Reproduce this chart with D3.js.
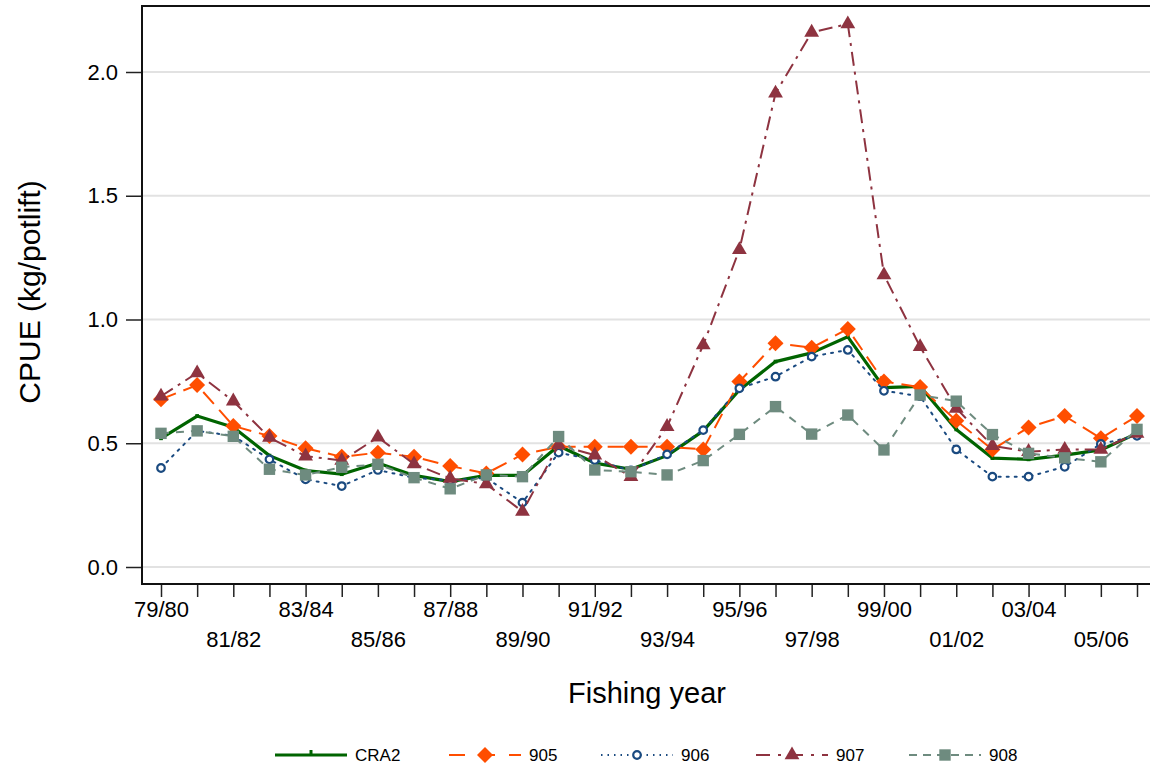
<!DOCTYPE html>
<html>
<head>
<meta charset="utf-8">
<script src="https://cdn.jsdelivr.net/npm/d3@7"></script>
<style>
  body { margin: 0; background: #fff; }
  svg { display: block; font-family: Arial, "Liberation Sans", sans-serif; }
</style>
</head>
<body>
<svg id="chart" width="1150" height="769"></svg>
<script>
// fishing years on the x axis
const years = ["79/80","80/81","81/82","82/83","83/84","84/85","85/86","86/87","87/88","88/89",
  "89/90","90/91","91/92","92/93","93/94","94/95","95/96","96/97","97/98","98/99",
  "99/00","00/01","01/02","02/03","03/04","04/05","05/06","06/07"];

// CPUE (kg/potlift) per series
const cra2 = [0.52,0.61,0.565,0.45,0.39,0.375,0.42,0.37,0.345,0.37,0.37,0.49,0.42,0.395,0.45,0.55,
  0.715,0.83,0.865,0.93,0.725,0.73,0.556,0.44,0.435,0.452,0.473,0.54];
const s905 = [0.678,0.735,0.57,0.529,0.48,0.445,0.462,0.445,0.408,0.378,0.455,0.486,0.486,0.486,0.486,0.475,
  0.749,0.904,0.886,0.962,0.749,0.727,0.591,0.475,0.564,0.61,0.52,0.61];
const s906 = [0.40,0.55,0.53,0.435,0.354,0.327,0.392,0.36,0.35,0.36,0.26,0.462,0.432,0.39,0.455,0.553,
  0.722,0.769,0.85,0.877,0.712,0.69,0.475,0.365,0.365,0.405,0.497,0.53];
const s907 = [0.69,0.784,0.67,0.523,0.448,0.43,0.524,0.416,0.358,0.335,0.224,0.493,0.452,0.365,0.567,0.897,
  1.282,1.914,2.16,2.194,1.18,0.89,0.641,0.49,0.466,0.475,0.475,0.54];
const s908 = [0.54,0.55,0.528,0.395,0.372,0.403,0.415,0.361,0.316,0.372,0.365,0.527,0.392,0.385,0.372,0.43,
  0.536,0.648,0.537,0.614,0.473,0.695,0.67,0.535,0.459,0.441,0.425,0.556];

const yTicks = [0, 0.5, 1.0, 1.5, 2.0];

const seriesNames = ["CRA2","905","906","907","908"];
const seriesValues = [cra2, s905, s906, s907, s908];

// styles per series
const styles = {
  "CRA2": {color: "#006400", width: 3.2, dash: null, legendDash: null, marker: "tick"},
  "905":  {color: "#ff4e00", width: 2, dash: "16,8", legendDash: "16,14", marker: "diamond"},
  "906":  {color: "#1a4a80", width: 2, dash: "2,6", legendDash: "1.5,5", marker: "circle"},
  "907":  {color: "#8e3340", width: 2, dash: "14,6,3,6", legendDash: "14,8,3,8", marker: "triangle"},
  "908":  {color: "#6e8b7f", width: 2, dash: "8,7", legendDash: "8,6", marker: "square"}
};

const svg = d3.select("#chart");

const frame = {left: 142, top: 6, bottom: 584, right: 1152};

const x = d3.scalePoint().domain(years).range([161, 1137]);
const y = d3.scaleLinear().domain([0, 2]).range([567, 72]);

// grid lines
svg.append("g")
  .selectAll("line")
  .data(yTicks)
  .join("line")
  .attr("x1", frame.left).attr("x2", frame.right)
  .attr("y1", d => y(d)).attr("y2", d => y(d))
  .attr("stroke", "#e2e2e2")
  .attr("stroke-width", 2);

// y axis
const yAxis = svg.append("g")
  .attr("transform", `translate(${frame.left},0)`)
  .call(d3.axisLeft(y).tickValues(yTicks).tickFormat(d3.format(".1f")).tickSize(16).tickPadding(8))
  .call(g => g.select(".domain").remove());
yAxis.selectAll(".tick line").attr("stroke", "#222").attr("stroke-width", 1.5);
yAxis.selectAll(".tick text").attr("font-size", 22).attr("fill", "#000").attr("font-family", "Arial, 'Liberation Sans', sans-serif");

// x axis
const xAxis = svg.append("g")
  .attr("transform", `translate(0,${frame.bottom})`)
  .call(d3.axisBottom(x).tickSize(13).tickPadding(6)
    .tickFormat((d, i) => i % 2 === 0 ? d : ""))
  .call(g => g.select(".domain").remove());
xAxis.selectAll(".tick line").attr("stroke", "#222").attr("stroke-width", 1.5);
xAxis.selectAll(".tick text")
  .attr("font-size", 22).attr("fill", "#000")
  .attr("font-family", "Arial, 'Liberation Sans', sans-serif")
  .attr("dy", (d, i) => i % 4 === 2 ? "2.0em" : "0.65em");

// frame
svg.append("path")
  .attr("d", `M${frame.right},${frame.top}H${frame.left}V${frame.bottom}H${frame.right}`)
  .attr("fill", "none")
  .attr("stroke", "#111")
  .attr("stroke-width", 2);

// axis titles
svg.append("text")
  .attr("x", 647).attr("y", 703)
  .attr("text-anchor", "middle")
  .attr("font-size", 29)
  .text("Fishing year");

svg.append("text")
  .attr("transform", "translate(40,292) rotate(-90)")
  .attr("text-anchor", "middle")
  .attr("font-size", 30)
  .text("CPUE (kg/potlift)");

// marker shapes
function markerPath(type) {
  if (type === "diamond") return "M0,-8L8,0L0,8L-8,0Z";
  if (type === "triangle") return d3.symbol(d3.symbolTriangle, 95)();
  if (type === "square") return d3.symbol(d3.symbolSquare, 130)();
  if (type === "circle") return d3.symbol(d3.symbolCircle, 45)();
  return d3.symbol(d3.symbolSquare, 14)();
}
function styleMarker(sel, st) {
  if (st.marker === "circle") {
    sel.attr("fill", "#fff").attr("stroke", st.color).attr("stroke-width", 2.2);
  } else {
    sel.attr("fill", st.color).attr("stroke", "none");
  }
}

const line = d3.line()
  .x((d, i) => x(years[i]))
  .y(d => y(d));

// series, drawn in legend order
seriesNames.forEach((name, k) => {
  const st = styles[name];
  const g = svg.append("g");
  g.append("path")
    .datum(seriesValues[k])
    .attr("d", line)
    .attr("fill", "none")
    .attr("stroke", st.color)
    .attr("stroke-width", st.width)
    .attr("stroke-dasharray", st.dash)
    .attr("stroke-linecap", st.marker === "circle" ? "round" : "butt")
    .attr("stroke-linejoin", "round");
  g.selectAll("path.m")
    .data(seriesValues[k])
    .join("path")
    .attr("class", "m")
    .attr("d", markerPath(st.marker))
    .attr("transform", (d, i) => `translate(${x(years[i])},${y(d)})`)
    .call(styleMarker, st);
});

// legend
const legendX = [275, 449, 601, 756, 909];
const legend = svg.append("g").attr("transform", "translate(0,755)");
seriesNames.forEach((name, k) => {
  const st = styles[name];
  const item = legend.append("g").attr("transform", `translate(${legendX[k]},0)`);
  item.append("line")
    .attr("x1", 0).attr("x2", 72)
    .attr("stroke", st.color)
    .attr("stroke-width", st.width)
    .attr("stroke-dasharray", st.legendDash);
  item.append("path")
    .attr("d", st.marker === "tick" ? "M-1.5,-5h3v5h-3z" : markerPath(st.marker))
    .attr("transform", "translate(36,0)")
    .call(styleMarker, st);
  item.append("text")
    .attr("x", 80).attr("y", 0).attr("dy", "0.35em")
    .attr("font-size", 17)
    .text(name);
});
</script>
</body>
</html>
